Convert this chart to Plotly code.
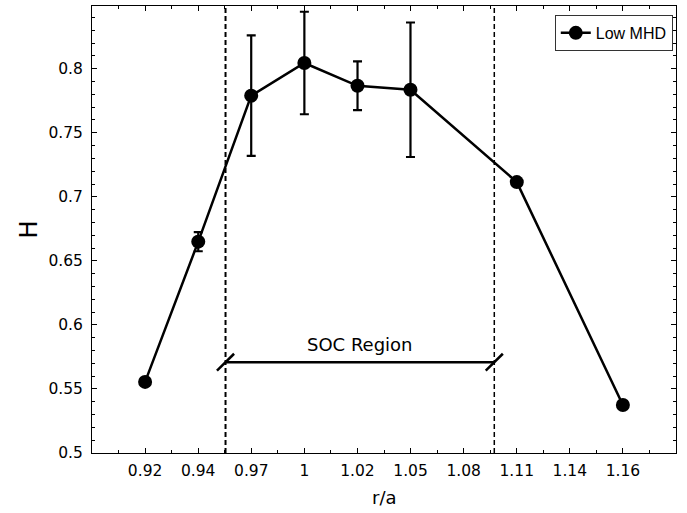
import plotly.graph_objects as go

# ---- data ----
r_a = [0.92, 0.9467, 0.9733, 1.0, 1.0267, 1.0533, 1.1067, 1.16]
H_vals = [0.5555, 0.665, 0.779, 0.8045, 0.7867, 0.7836, 0.7115, 0.5375]
H_err = [0.0, 0.0075, 0.047, 0.040, 0.019, 0.0525, 0.0, 0.0]

x_tickvals = [0.92, 0.94667, 0.97333, 1.0, 1.02667, 1.05333, 1.08, 1.10667, 1.13333, 1.16]
x_ticktext = ["0.92", "0.94", "0.97", "1", "1.02", "1.05", "1.08", "1.11", "1.14", "1.16"]

soc_left = 0.9604
soc_right = 1.0954
soc_arrow_y = 0.5709
series_name = "Low MHD"

fig = go.Figure()
fig.add_trace(go.Scatter(
    x=r_a, y=H_vals, mode="lines+markers", name=series_name,
    line=dict(color="black", width=2.5),
    marker=dict(color="black", size=14),
    error_y=dict(type="data", array=H_err, visible=True, color="black",
                 thickness=2.2, width=4.5),
))

# vertical dashed lines
for xv, w in [(soc_left, 2), (soc_right, 1.5)]:
    fig.add_shape(type="line", xref="x", yref="paper", x0=xv, x1=xv, y0=0, y1=1,
                  line=dict(color="black", width=w, dash="5px,3px"))

# SOC arrow line
fig.add_shape(type="line", xref="x", yref="y", x0=soc_left, x1=soc_right,
              y0=soc_arrow_y, y1=soc_arrow_y, line=dict(color="black", width=2.5))
dx, dy = 0.0043, 0.0066
for xv in (soc_left, soc_right):
    fig.add_shape(type="line", xref="x", yref="y", x0=xv - dx, x1=xv + dx,
                  y0=soc_arrow_y - dy, y1=soc_arrow_y + dy,
                  line=dict(color="black", width=2.5))

fig.add_annotation(x=(soc_left + soc_right) / 2, y=soc_arrow_y, xref="x", yref="y",
                   text="SOC Region", showarrow=False, yanchor="bottom", yshift=5,
                   font=dict(family="DejaVu Sans", size=18, color="black"))

# axis titles as annotations
fig.add_annotation(x=0.5, y=0, xref="paper", yref="paper", text="r/a", showarrow=False,
                   xanchor="center", yanchor="middle", yshift=-44,
                   font=dict(family="DejaVu Sans", size=18, color="black"))
fig.add_annotation(x=0, y=0.5, xref="paper", yref="paper", text="H", showarrow=False,
                   xanchor="center", yanchor="middle", xshift=-64, textangle=-90,
                   font=dict(family="DejaVu Sans", size=24, color="black"))

axis_common = dict(showline=True, linecolor="black", linewidth=1, mirror="ticks",
                   ticks="inside", ticklen=5, tickcolor="black", tickwidth=1,
                   showgrid=False, zeroline=False,
                   tickfont=dict(family="DejaVu Sans", size=15.5, color="black"))

fig.update_xaxes(range=[0.89333, 1.18667], tickmode="array",
                 tickvals=x_tickvals, ticktext=x_ticktext, ticklabelstandoff=3,
                 minor=dict(ticks="inside", ticklen=3, tickcolor="black",
                            tickmode="linear", tick0=0.92, dtick=0.0133333),
                 **axis_common)
fig.update_yaxes(range=[0.5, 0.849], tickmode="linear", tick0=0.5, dtick=0.05,
                 ticklabelstandoff=5,
                 minor=dict(ticks="inside", ticklen=3, tickcolor="black",
                            tickmode="linear", tick0=0.5, dtick=0.01),
                 **axis_common)

fig.update_layout(
    width=687, height=513,
    margin=dict(l=92, r=11, t=6, b=60),
    paper_bgcolor="white", plot_bgcolor="white",
    showlegend=True,
    legend=dict(x=0.9945, y=0.98, xanchor="right", yanchor="top",
                bordercolor="#333333", borderwidth=1, bgcolor="white",
                itemwidth=30,
                font=dict(family="Liberation Sans", size=16, color="black")),
)

fig.write_html("out.html", config={"displayModeBar": False},
               post_script="document.body.style.margin='0px';")
